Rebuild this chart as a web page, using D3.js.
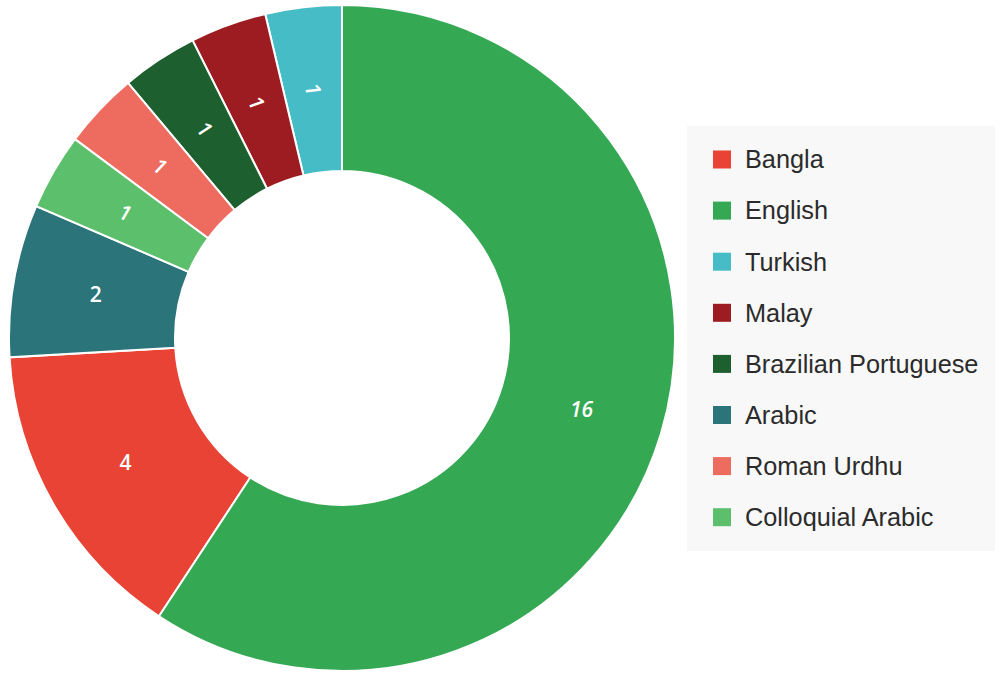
<!DOCTYPE html>
<html>
<head>
<meta charset="utf-8">
<script src="https://cdn.jsdelivr.net/npm/d3@7"></script>
<style>
  body { margin: 0; background: #fff; }
</style>
</head>
<body>
<div id="chart"></div>
<script>
// Data, in legend order
const languages = ["Bangla", "English", "Turkish", "Malay", "Brazilian Portuguese", "Arabic", "Roman Urdhu", "Colloquial Arabic"];
const counts = [4, 16, 1, 1, 1, 2, 1, 1];
const colors = ["#e94335", "#34a853", "#46bdc6", "#9c1c21", "#1e5f30", "#2a747a", "#ed6b5f", "#5cbf6c"];
// Order of slices clockwise from 12 o'clock
const pieOrder = ["English", "Bangla", "Arabic", "Colloquial Arabic", "Roman Urdhu", "Brazilian Portuguese", "Malay", "Turkish"];

const data = languages.map((d, i) => ({ name: d, value: counts[i] }));

let width = 1005, height = 686;

let svg = d3.select('#chart')
    .append('svg')
    .attr('width', width)
    .attr('height', height);

const color = d3.scaleOrdinal()
    .domain(languages)
    .range(colors);

// Donut
const cx = 342, cy = 338;
const outerR = 333, innerR = 167;

const pie = d3.pie()
    .value(d => d.value)
    .sort((a, b) => pieOrder.indexOf(a.name) - pieOrder.indexOf(b.name));

const arc = d3.arc()
    .innerRadius(innerR)
    .outerRadius(outerR);

const g = svg.append('g')
    .attr('transform', `translate(${cx},${cy})`);

const arcs = pie(data);

g.selectAll('path')
    .data(arcs)
    .enter()
    .append('path')
    .attr('d', arc)
    .attr('fill', d => color(d.data.name))
    .attr('stroke', '#fff')
    .attr('stroke-width', 2);

// Labels; the narrow slices get their label turned along the radius
g.selectAll('text')
    .data(arcs)
    .enter()
    .append('text')
    .attr('transform', d => {
        const [x, y] = arc.centroid(d);
        let a = 0;
        if (d.endAngle - d.startAngle < 0.3) {
            a = (d.startAngle + d.endAngle) / 2 * 180 / Math.PI - 90;
            if (a > 90 && a < 270) a -= 180;
        }
        return `translate(${x},${y}) rotate(${a})`;
    })
    .attr('text-anchor', 'middle')
    .attr('dy', '0.35em')
    .style('font-family', '"Open Sans", sans-serif')
    .style('font-weight', 600)
    .style('font-style', d => d.data.value > 10 ? 'italic' : 'normal')
    .style('font-size', '21px')
    .attr('fill', '#fff')
    .text(d => d.data.value);

// Legend
const legend = svg.append('g')
    .attr('transform', 'translate(687,126)');

legend.append('rect')
    .attr('width', 308)
    .attr('height', 425)
    .attr('fill', '#f8f8f8');

languages.forEach((name, i) => {
    const y = 33.5 + i * 51.1;
    legend.append('rect')
        .attr('x', 26)
        .attr('y', y - 9)
        .attr('width', 18)
        .attr('height', 18)
        .attr('fill', color(name));
    legend.append('text')
        .attr('x', 58)
        .attr('y', y)
        .attr('dy', '0.35em')
        .style('font-family', '"Liberation Sans", Arial, sans-serif')
        .style('font-size', '25.3px')
        .attr('fill', '#2b2b2b')
        .text(name);
});
</script>
</body>
</html>
